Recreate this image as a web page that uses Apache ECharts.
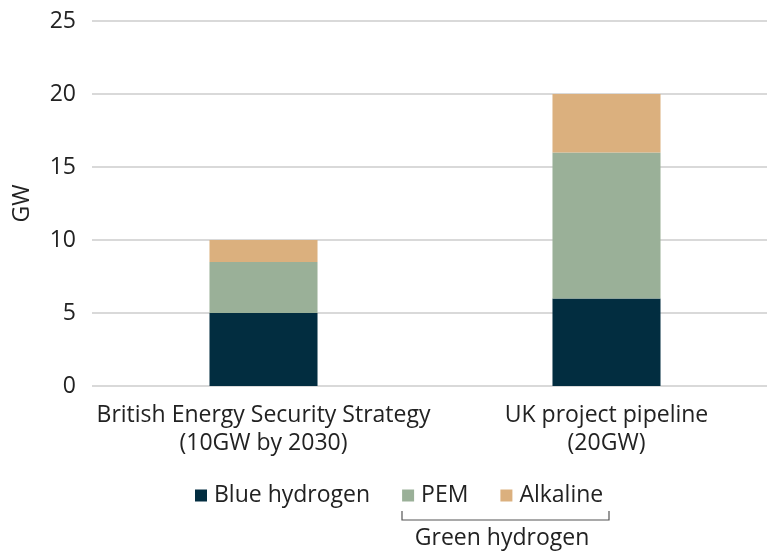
<!DOCTYPE html>
<html>
<head>
<meta charset="utf-8">
<script src="https://cdn.jsdelivr.net/npm/echarts@6/dist/echarts.min.js"></script>
<style>
  html, body { margin: 0; padding: 0; background: #fff; }
  #chart { width: 767px; height: 553px; }
</style>
</head>
<body>
<div id="chart"></div>
<script>
  const categories = ['British Energy Security Strategy\n(10GW by 2030)', 'UK project pipeline\n(20GW)'];
  const blueHydrogen = [5, 6];
  const pem = [3.5, 10];
  const alkaline = [1.5, 4];
  const yTicks = [0, 5, 10, 15, 20, 25];

  const font = 'Open Sans';
  const textColor = '#222';
  const fs = 23;

  const chart = echarts.init(document.getElementById('chart'));

  const bar = (name, data, color) => ({
    name, type: 'bar', stack: 'total', data,
    barWidth: '31.5%',
    itemStyle: {color},
    emphasis: {disabled: true}
  });

  chart.setOption({
    animation: false,
    textStyle: {fontFamily: font},
    grid: {left: 92, width: 686, top: 21, height: 365, outerBoundsMode: 'none', containLabel: false},
    legend: {
      top: 479, left: 190,
      itemWidth: 12, itemHeight: 12, itemGap: 32,
      icon: 'rect',
      textStyle: {fontFamily: font, fontSize: fs, color: textColor, padding: [0, 0, 0, 2]},
      data: ['Blue hydrogen', 'PEM', 'Alkaline']
    },
    xAxis: {
      type: 'category', data: categories,
      axisLine: {show: false}, axisTick: {show: false},
      axisLabel: {fontFamily: font, fontSize: fs, color: textColor, lineHeight: 28, margin: 15, interval: 0}
    },
    yAxis: {
      type: 'value', min: yTicks[0], max: yTicks[yTicks.length - 1], interval: 5,
      name: 'GW', nameLocation: 'middle', nameGap: 58, nameRotate: 90,
      nameTextStyle: {fontFamily: font, fontSize: fs, color: textColor},
      axisLine: {show: false}, axisTick: {show: false},
      axisLabel: {fontFamily: font, fontSize: fs, color: textColor, margin: 16},
      splitLine: {lineStyle: {color: '#d9d9d9', width: 2}}
    },
    series: [
      bar('Blue hydrogen', blueHydrogen, '#022d40'),
      bar('PEM', pem, '#9ab098'),
      bar('Alkaline', alkaline, '#dbb07e')
    ],
    graphic: [
      {
        type: 'polyline',
        shape: {points: [[402, 511], [402, 520], [609, 520], [609, 511]]},
        style: {stroke: '#555', lineWidth: 1.2, fill: null}
      },
      {
        type: 'text', x: 502, y: 527,
        style: {text: 'Green hydrogen', font: fs + 'px "' + font + '"', fill: textColor, align: 'center', verticalAlign: 'top'}
      }
    ]
  });
</script>
</body>
</html>
